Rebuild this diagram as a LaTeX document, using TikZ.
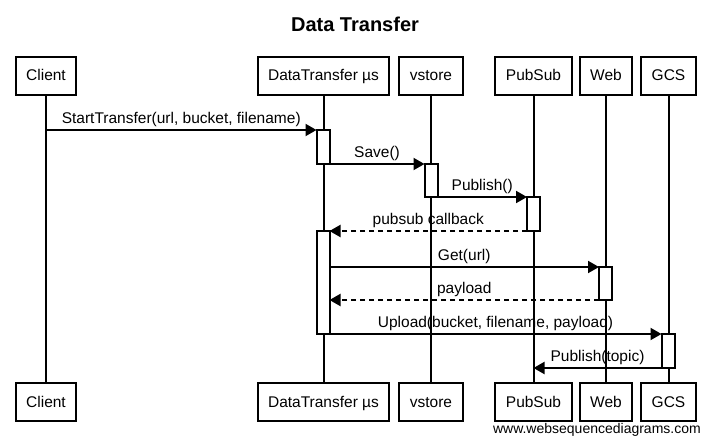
\documentclass[tikz,border=0pt]{standalone}
\usepackage{fontspec}
\setmainfont{Liberation Sans}
\usetikzlibrary{positioning}
\usetikzlibrary{arrows.meta}
\tikzset{
    actor/.style = {rectangle, line width=2pt, draw=black, align=center,fill=white,minimum height=38pt,inner xsep=10.5pt,text height=10pt,text depth=0pt,font=\fontsize{15.5}{18}\selectfont,text=black},
    actbar/.style = {rectangle, line width=2pt, draw=black, fill=white, minimum width=13pt, inner sep=0pt, outer sep=0pt},
    lifeline/.style = {-,line width=2pt,black},
    msgn/.style = {-{Triangle[length=11pt,width=12pt]},line width=2pt,black}, % call
    msgd/.style = {-{Triangle[length=11pt,width=12pt]},line width=2pt,black,dash pattern=on 5pt off 4pt}, % reply
    msglabel/.style = {above,inner sep=2pt,font=\fontsize{15.5}{18}\selectfont,text=black},
}

\begin{document}
\begin{tikzpicture}[x=1pt,y=-1pt]
  \useasboundingbox (0,0) rectangle (710,444);
  \node[font=\bfseries\fontsize{20}{24}\selectfont] (title) at (355,24) {Data Transfer};

  \node[actor] (cl) at (46,76) {Client};
  \node[actor] (dt) at (323.5,76) {DataTransfer µs};
  \node[actor] (vs) at (431,76) {vstore};
  \node[actor] (ps) at (533.5,76) {PubSub};
  \node[actor] (wb) at (606,76) {Web};
  \node[actor] (gc) at (668.5,76) {GCS};

  \node[actor] (cl-bot) at (46,402) {Client};
  \node[actor] (dt-bot) at (323.5,402) {DataTransfer µs};
  \node[actor] (vs-bot) at (431,402) {vstore};
  \node[actor] (ps-bot) at (533.5,402) {PubSub};
  \node[actor] (wb-bot) at (606,402) {Web};
  \node[actor] (gc-bot) at (668.5,402) {GCS};

  \foreach \a in {cl,dt,vs,ps,wb,gc}
    \draw[lifeline] (\a) -- (\a-bot);

  \node[actbar, minimum height=34pt] (dt1) at (323,147) {};
  \node[actbar, minimum height=33pt] (vs1) at (431,180.5) {};
  \node[actbar, minimum height=34pt] (ps1) at (533.5,214) {};
  \node[actbar, minimum height=103pt] (dt2) at (323,282.5) {};
  \node[actbar, minimum height=33pt] (wb1) at (605.5,283.5) {};
  \node[actbar, minimum height=34pt] (gc1) at (668,351) {};

  \draw[msgn] (cl |- dt1.north) -- node[msglabel] {StartTransfer(url, bucket, filename)} (dt1.north west);
  \draw[msgn] (dt1.south east) -- node[msglabel] {Save()} (vs1.north west);
  \draw[msgn] (vs1.south east) -- node[msglabel] {Publish()} (ps1.north west);
  \draw[msgd] (ps1.south west) -- node[msglabel] {pubsub callback} (dt2.north east);
  \draw[msgn] (dt2.east |- wb1.north) -- node[msglabel] {Get(url)} (wb1.north west);
  \draw[msgd] (wb1.south west) -- node[msglabel] {payload} (dt2.east |- wb1.south);
  \draw[msgn] (dt2.south east) -- node[msglabel] {Upload(bucket, filename, payload)} (gc1.north west);
  \draw[msgn] (gc1.south west) -- node[msglabel] {Publish(topic)} (ps |- gc1.south);

  \node[anchor=east,inner sep=0pt,font=\fontsize{14}{16}\selectfont] (wsd) at (701,430) {www.websequencediagrams.com};
\end{tikzpicture}
\end{document}
